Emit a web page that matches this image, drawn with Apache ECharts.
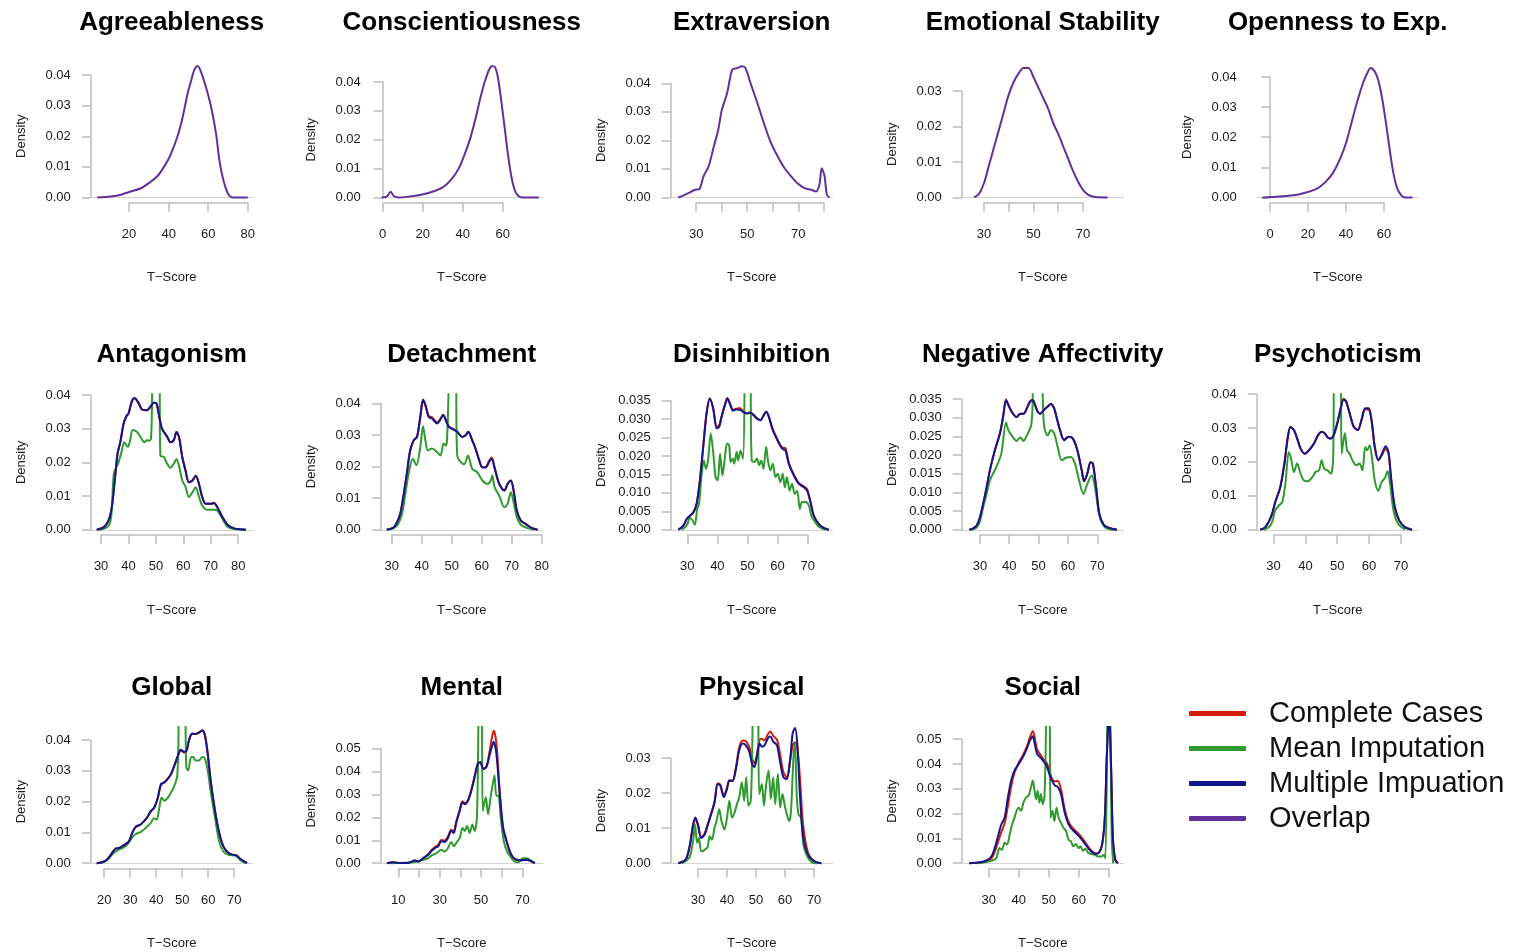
<!DOCTYPE html>
<html><head><meta charset="utf-8">
<script src="https://cdn.jsdelivr.net/npm/echarts@6/dist/echarts.min.js"></script>
<style>html,body{margin:0;padding:0;background:#fff}#c{width:1516px;height:952px}</style>
</head><body><div id="c"></div>
<script>
// ---------- panel definitions ----------
const titles = ['Agreeableness','Conscientiousness','Extraversion','Emotional Stability','Openness to Exp.',
  'Antagonism','Detachment','Disinhibition','Negative Affectivity','Psychoticism',
  'Global','Mental','Physical','Social'];
const xRange = [[0.6,82.5],[-1,80],[20,83.5],[21,86.5],[-7,78.3],
  [26.2,85.3],[26.3,80.3],[24.5,78.3],[23.8,79],[24.7,75.6],
  [14.8,77.1],[1.5,79.8],[20.6,76.4],[21,75]];
const xTicks = [[20,80,20],[0,60,20],[30,80,10],[30,70,10],[0,60,20],
  [30,80,10],[30,80,10],[30,70,10],[30,70,10],[30,70,10],
  [20,70,10],[10,70,10],[30,70,10],[30,70,10]];
const xTickLabels = [[20,40,60,80],[0,20,40,60],[30,50,70],[30,50,70],[0,20,40,60],
  [30,40,50,60,70,80],[30,40,50,60,70,80],[30,40,50,60,70],[30,40,50,60,70],[30,40,50,60,70],
  [20,30,40,50,60,70],[10,30,50,70],[30,40,50,60,70],[30,40,50,60,70]];
const yMax = [0.04,0.04,0.04,0.03,0.04, 0.04,0.04,0.035,0.035,0.04, 0.04,0.05,0.03,0.05];
const yStep = [0.01,0.01,0.01,0.01,0.01, 0.01,0.01,0.005,0.005,0.01, 0.01,0.01,0.01,0.01];
const yTop = [0.0446,0.0473,0.0478,0.0385,0.0453, 0.0405,0.0432,0.037,0.03655,0.0402, 0.0446,0.0598,0.0391,0.0553];

const seriesNames = ['Complete Cases','Mean Imputation','Multiple Impuation','Overlap'];
const xName = 'T\u2212Score';
const yName = 'Density';

// ---------- data (T-score, density); null = line break where curve leaves plot ----------
const agreeOverlap = [[3.9,0],[10.7,0.0003],[16,0.0009],[20,0.0018],[26,0.003],[30,0.0047],[34.4,0.007],[38.6,0.011],[41,0.014],[44.5,0.02],[47,0.026],[49.6,0.034],[51.3,0.038],[53,0.0417],[54.7,0.043],[56.4,0.041],[58.9,0.036],[61.5,0.0295],[64,0.0207],[65.7,0.012],[67.4,0.0064],[69.9,0.0014],[72.5,0],[80,0]];
const conscOverlap = [[-0.5,0],[2,0.0003],[4,0.002],[5.5,0.0005],[8,0],[12,0.0002],[18,0.0008],[24,0.0018],[30,0.0035],[34,0.006],[38,0.01],[41,0.015],[44,0.021],[47,0.029],[49,0.035],[51,0.04],[53,0.044],[54.5,0.0455],[56,0.0453],[57.5,0.042],[59,0.035],[61,0.024],[63,0.013],[65,0.005],[67,0.0012],[70,0],[78,0]];
const extraOverlap = [[23,0],[25.7,0.001],[27.6,0.0018],[29.6,0.0027],[31.3,0.003],[32.9,0.0075],[34.9,0.011],[36.8,0.0175],[38.7,0.024],[40,0.0305],[42.1,0.0365],[44.1,0.0447],[46,0.0453],[48,0.046],[49.3,0.0453],[51.3,0.04],[54,0.033],[56.6,0.0258],[59.2,0.0193],[61.8,0.0146],[64.5,0.0104],[67.1,0.0075],[69.7,0.005],[72.4,0.0033],[75,0.0027],[77,0.0021],[78.3,0.0045],[79.2,0.0102],[80.3,0.0075],[81.2,0.001],[82.2,0]];
const emotOverlap = [[26,0],[28,0.001],[30,0.004],[32,0.009],[34,0.014],[36,0.019],[38,0.024],[40,0.029],[42,0.0325],[44,0.035],[46,0.0365],[48,0.0365],[50,0.034],[52,0.031],[54,0.028],[56,0.025],[58,0.021],[60,0.018],[62,0.0145],[64,0.011],[66,0.0075],[68,0.0045],[70,0.0022],[72,0.0008],[75,0.0001],[80,0]];
const openOverlap = [[-4,0],[5,0.0003],[10,0.0006],[15,0.001],[20,0.0018],[25,0.003],[29,0.005],[33,0.008],[37,0.013],[40,0.018],[43,0.025],[46,0.032],[49,0.038],[51,0.041],[53,0.043],[55,0.042],[57,0.039],[59,0.033],[61,0.025],[63,0.016],[65,0.008],[67,0.003],[69,0.0008],[71,0],[75,0]];

const antagComplete = [[28.4,0],[30.9,0.0007],[32.7,0.0027],[33.9,0.0067],[35.1,0.0156],[36,0.0226],[37,0.026],[38.2,0.0315],[39.2,0.0337],[40,0.0345],[41.2,0.0382],[42.2,0.0391],[43.7,0.0376],[44.9,0.0357],[46.7,0.0355],[48,0.0365],[49.2,0.0377],[50.2,0.0375],[51,0.0345],[52.2,0.03],[54.1,0.0276],[55.3,0.026],[56.5,0.0266],[57.5,0.029],[58.4,0.0276],[59.6,0.0216],[60.8,0.0176],[62,0.0141],[63.3,0.0146],[64.5,0.016],[65.7,0.0136],[66.9,0.0097],[68.1,0.0077],[70,0.0077],[71.2,0.008],[72.4,0.0067],[74.3,0.0037],[76.1,0.0015],[78.5,0.0004],[82.8,0]];
const antagMean = [[29.6,0],[32.1,0.0007],[33.3,0.0022],[33.9,0.006],[34.6,0.0165],[35.5,0.0185],[36.2,0.0196],[37.6,0.0236],[38.4,0.026],[39.7,0.0246],[40.6,0.0266],[41.5,0.0296],[43.1,0.029],[44.3,0.0276],[45.8,0.026],[46.7,0.0266],[47.5,0.0264],[48.2,0.027],[48.6,0.0405],null,[51.4,0.0405],[51.6,0.022],[52.9,0.0216],[54.1,0.0196],[55.3,0.0184],[56.5,0.0196],[57.5,0.021],[58.4,0.019],[59.6,0.0146],[60.8,0.0127],[62,0.0097],[63.3,0.0111],[64.5,0.0126],[65.7,0.0098],[66.9,0.0072],[68.8,0.0059],[71.2,0.0059],[72.4,0.0057],[74.3,0.0032],[76.1,0.0009],[78.5,0.0002],[82.8,0]];
const antagMultiple = [[28.4,0],[30.9,0.0007],[32.7,0.0027],[33.9,0.0067],[35.1,0.0156],[36,0.0226],[37,0.026],[38.2,0.0315],[39.2,0.0337],[40,0.0345],[41.2,0.038],[42.2,0.039],[43.7,0.0375],[44.9,0.0357],[46.7,0.0355],[48,0.0365],[49.2,0.0377],[50.2,0.0375],[51,0.0345],[52.2,0.03],[54.1,0.0276],[55.3,0.026],[56.5,0.0266],[57.5,0.029],[58.4,0.0276],[59.6,0.0216],[60.8,0.0176],[62,0.0141],[63.3,0.0146],[64.5,0.016],[65.7,0.0136],[66.9,0.0097],[68.1,0.0077],[70,0.0077],[71.2,0.0079],[72.4,0.0067],[74.3,0.0037],[76.1,0.0015],[78.5,0.0004],[82.8,0]];

const detachComplete = [[28.3,0],[30.6,0.0007],[31.7,0.0023],[32.8,0.005],[33.9,0.0108],[35,0.0177],[36.1,0.025],[37.3,0.0283],[38.4,0.0294],[39.5,0.0357],[40.4,0.0412],[41.2,0.0396],[42.3,0.036],[43.4,0.0356],[45.1,0.034],[46.2,0.0351],[47.1,0.0364],[47.9,0.035],[49,0.0327],[50.7,0.0317],[51.8,0.031],[53.5,0.0294],[54.6,0.0299],[55.5,0.031],[56.8,0.0284],[57.9,0.0258],[59.1,0.0222],[60.2,0.0199],[61.3,0.0199],[62.4,0.0218],[63.3,0.0229],[64.3,0.0197],[65.8,0.0146],[67.5,0.0124],[68.6,0.0145],[69.7,0.0156],[70.6,0.0124],[71.7,0.006],[73,0.0029],[74.7,0.0018],[76.4,0.0007],[78.6,0]];
const detachMean = [[29.4,0],[31.7,0.0013],[33.4,0.005],[34.5,0.0113],[35.6,0.0177],[37,0.0225],[38.2,0.0204],[39.5,0.0262],[40.4,0.0328],[41.2,0.0283],[42,0.0251],[43.4,0.0257],[45.1,0.0246],[46.2,0.0235],[47.3,0.0273],[48,0.0267],[48.4,0.0283],[48.9,0.0432],null,[51.5,0.0432],[51.8,0.0235],[53,0.0214],[54.1,0.0207],[55.4,0.0235],[56.8,0.0193],[58.5,0.0182],[60.2,0.0156],[61.9,0.0145],[63,0.0156],[63.5,0.0172],[64.3,0.0134],[65.8,0.0108],[67.5,0.0071],[68.6,0.0082],[69.7,0.0119],[70.6,0.0087],[71.7,0.0039],[73,0.0016],[75.3,0.0005],[77.5,0]];
const detachMultiple = [[28.3,0],[30.6,0.0007],[31.7,0.0023],[32.8,0.005],[33.9,0.0108],[35,0.0177],[36.1,0.025],[37.3,0.0283],[38.4,0.0294],[39.5,0.0357],[40.4,0.041],[41.2,0.0394],[42.3,0.0357],[43.4,0.0352],[45.1,0.0336],[46.2,0.0349],[47.1,0.0363],[47.9,0.0349],[49,0.0326],[50.7,0.0317],[51.8,0.031],[53.5,0.0294],[54.6,0.0299],[55.5,0.031],[56.8,0.0283],[57.9,0.0257],[59.1,0.022],[60.2,0.0197],[61.3,0.0197],[62.4,0.0214],[63.3,0.0225],[64.3,0.0193],[65.8,0.0145],[67.5,0.0124],[68.6,0.0145],[69.7,0.0156],[70.6,0.0124],[71.7,0.006],[73,0.0029],[74.7,0.0018],[76.4,0.0007],[78.6,0]];

const disinhComplete = [[27,0],[28.7,0.0011],[29.8,0.0029],[30.9,0.0038],[32,0.0047],[33.1,0.007],[34.2,0.0134],[35.3,0.0225],[36.4,0.0315],[37.5,0.0356],[38.6,0.033],[39.8,0.028],[40.6,0.0283],[41.4,0.0308],[42.5,0.0339],[43.3,0.0357],[44.3,0.034],[45.2,0.0325],[46.3,0.0328],[47.4,0.033],[48.5,0.0322],[49.8,0.0316],[50.9,0.0318],[52,0.0311],[53.1,0.0302],[54.3,0.0297],[55.4,0.0311],[56.2,0.032],[57.1,0.0307],[58.2,0.0277],[59.9,0.0246],[61.5,0.0223],[62.6,0.0221],[63.7,0.0182],[65.4,0.0149],[67,0.0127],[68.7,0.0118],[69.8,0.011],[70.9,0.0077],[72,0.0039],[73.7,0.0015],[75.3,0.0005],[77,0]];
const disinhMean = [[28.1,0],[29.2,0.0006],[30,0.0015],[30.9,0.0032],[31.8,0.0025],[32.5,0.0014],[33.3,0.0056],[33.9,0.007],[34.7,0.0143],[35.5,0.0188],[36.2,0.0165],[36.9,0.0188],[37.8,0.0261],[38.6,0.0211],[39.4,0.0143],[40.1,0.0134],[40.9,0.0206],[41.7,0.0147],[42.4,0.0188],[43.2,0.0234],[43.9,0.0229],[44.4,0.0184],[45.1,0.0193],[45.6,0.0179],[46.4,0.0211],[46.9,0.0188],[47.7,0.0215],[48.5,0.0193],[49,0.037],null,[51.1,0.037],[51.4,0.0188],[52.3,0.0184],[53.1,0.0193],[53.9,0.0175],[54.6,0.0188],[55.3,0.0165],[56.2,0.0225],[56.8,0.0188],[57.6,0.0161],[58.4,0.0179],[59.3,0.0143],[60,0.0152],[60.9,0.0129],[61.7,0.0152],[62.4,0.0115],[63.1,0.0143],[64,0.0106],[64.8,0.0125],[65.7,0.0097],[66.5,0.0106],[67.4,0.0056],[68.1,0.0075],[69.3,0.0075],[70.4,0.0065],[71.2,0.0038],[72.1,0.0025],[73.7,0.0008],[75.9,0]];
const disinhMultiple = [[27,0],[28.7,0.0011],[29.8,0.0029],[30.9,0.0038],[32,0.0047],[33.1,0.007],[34.2,0.0134],[35.3,0.0225],[36.4,0.0315],[37.5,0.0356],[38.6,0.0329],[39.8,0.0275],[40.6,0.0279],[41.4,0.0306],[42.5,0.0338],[43.3,0.0356],[44.3,0.0338],[45.2,0.0323],[46.3,0.0326],[47.4,0.0325],[48.5,0.032],[49.8,0.0315],[50.9,0.0318],[52,0.0311],[53.1,0.0302],[54.3,0.0297],[55.4,0.0311],[56.2,0.032],[57.1,0.0306],[58.2,0.0275],[59.9,0.0243],[61.5,0.022],[62.6,0.0215],[63.7,0.0179],[65.4,0.0147],[67,0.0125],[68.7,0.0115],[69.8,0.0106],[70.9,0.0075],[72,0.0038],[73.7,0.0015],[75.3,0.0005],[77,0]];

const negaffComplete = [[26.4,0],[27.7,0.0004],[28.9,0.0011],[30,0.0033],[31.1,0.0069],[32.3,0.0114],[33.4,0.0159],[35.1,0.0213],[36.8,0.0257],[37.9,0.0302],[38.9,0.0349],[39.7,0.0335],[40.8,0.0317],[42.5,0.0302],[43.8,0.0311],[44.9,0.0311],[46,0.0326],[47.1,0.0344],[48,0.0348],[48.8,0.0334],[49.7,0.0316],[50.5,0.0311],[51.6,0.0319],[53.1,0.033],[54.2,0.0337],[55.3,0.0325],[56.1,0.0302],[57.3,0.0267],[58.7,0.024],[60.2,0.0249],[61.7,0.0244],[63.2,0.0213],[64.7,0.0159],[65.5,0.013],[66.6,0.015],[67.7,0.0181],[68.5,0.0177],[69.6,0.0114],[70.7,0.0042],[72.2,0.0013],[73.9,0.0005],[76.7,0]];
const negaffMean = [[27.2,0],[28.9,0.0006],[30,0.0022],[31.1,0.006],[32.3,0.0096],[33.4,0.0132],[35.6,0.0168],[37.3,0.0204],[38.9,0.0287],[39.7,0.0267],[40.8,0.0253],[42.5,0.0238],[43.8,0.0247],[44.9,0.0238],[46,0.0253],[47.5,0.028],[48,0.03655],null,[51.4,0.03655],[51.9,0.0276],[53.1,0.0253],[54.2,0.0267],[55.3,0.0258],[56.5,0.0222],[57.9,0.0186],[59.3,0.0193],[61,0.0195],[62.4,0.0177],[63.8,0.0132],[65.3,0.0096],[66.6,0.0123],[68.1,0.0145],[69.4,0.0105],[70.7,0.0038],[72.7,0.0006],[76,0]];
const negaffMultiple = [[26.4,0],[27.7,0.0004],[28.9,0.0011],[30,0.0033],[31.1,0.0069],[32.3,0.0114],[33.4,0.0159],[35.1,0.0213],[36.8,0.0257],[37.9,0.0302],[38.9,0.0347],[39.7,0.0334],[40.8,0.0316],[42.5,0.0302],[43.8,0.0311],[44.9,0.0311],[46,0.0325],[47.1,0.0343],[48,0.0347],[48.8,0.0334],[49.7,0.0316],[50.5,0.0311],[51.6,0.0319],[53.1,0.033],[54.2,0.0337],[55.3,0.0325],[56.1,0.0302],[57.3,0.0267],[58.7,0.024],[60.2,0.0249],[61.7,0.0244],[63.2,0.0213],[64.7,0.0159],[65.5,0.013],[66.6,0.015],[67.7,0.0181],[68.5,0.0177],[69.6,0.0114],[70.7,0.0042],[72.2,0.0013],[73.9,0.0005],[76.7,0]];

const psychComplete = [[25.8,0],[27.3,0.0007],[28.4,0.0022],[29.5,0.0046],[30.5,0.0081],[32.1,0.0125],[33.4,0.0195],[34.5,0.0274],[35.3,0.0302],[36.4,0.0294],[37.4,0.0269],[38.5,0.0239],[39.8,0.0224],[41.1,0.0234],[42.7,0.0254],[44,0.0279],[45.1,0.0289],[46.1,0.0284],[47,0.0272],[48,0.0269],[48.9,0.0279],[50,0.0313],[51.1,0.0358],[52,0.0386],[52.8,0.0378],[53.9,0.0343],[55.2,0.0303],[56.5,0.0294],[57.6,0.0322],[58.8,0.0355],[59.9,0.0354],[60.8,0.032],[61.8,0.0244],[62.9,0.0205],[63.9,0.0218],[65.2,0.0238],[66.1,0.0225],[66.9,0.0152],[68,0.007],[69.5,0.0027],[71.4,0.0007],[73.5,0]];
const psychMean = [[26.8,0],[28.4,0.0007],[29.5,0.0022],[30.5,0.0056],[31.6,0.0071],[32.7,0.0081],[33.7,0.0135],[34.8,0.0229],[35.5,0.021],[36.4,0.017],[37.4,0.0195],[38.5,0.0165],[39.5,0.0145],[40.8,0.0143],[42.2,0.0155],[43.2,0.017],[44.3,0.0175],[45.1,0.0205],[45.9,0.018],[47,0.0175],[48,0.0165],[48.7,0.0205],[48.9,0.0402],null,[51.2,0.0402],[51.4,0.0224],[52.4,0.0284],[53.1,0.0234],[53.9,0.0224],[55,0.02],[56,0.019],[57,0.0195],[57.9,0.0175],[58.8,0.0244],[59.4,0.0234],[60.2,0.0249],[61,0.0205],[61.8,0.0145],[62.9,0.0115],[63.9,0.014],[65,0.0153],[65.8,0.0173],[66.6,0.0135],[67.7,0.0056],[69.2,0.0017],[71.4,0]];
const psychMultiple = [[25.8,0],[27.3,0.0007],[28.4,0.0022],[29.5,0.0046],[30.5,0.0081],[32.1,0.0125],[33.4,0.0195],[34.5,0.0274],[35.3,0.0303],[36.4,0.0294],[37.4,0.0269],[38.5,0.0239],[39.8,0.0224],[41.1,0.0234],[42.7,0.0254],[44,0.0279],[45.1,0.0289],[46.1,0.0284],[47,0.0272],[48,0.0269],[48.9,0.0279],[50,0.0313],[51.1,0.0358],[52,0.0384],[52.8,0.0377],[53.9,0.0343],[55.2,0.0303],[56.5,0.0294],[57.6,0.0323],[58.8,0.0358],[59.9,0.0358],[60.8,0.0323],[61.8,0.0244],[62.9,0.0205],[63.9,0.022],[65.2,0.0246],[66.1,0.0229],[66.9,0.0155],[68,0.0071],[69.5,0.0027],[71.4,0.0007],[73.5,0]];

const globalComplete = [[17.1,0],[19.1,0.0003],[21,0.0011],[23,0.0033],[24.3,0.0047],[25.6,0.0049],[26.9,0.0055],[28.2,0.0062],[29.5,0.0071],[30.8,0.0099],[32.1,0.0118],[34,0.0126],[35.3,0.0137],[36.6,0.015],[37.9,0.0168],[39.2,0.0179],[40.6,0.0211],[41.8,0.0255],[43.1,0.0262],[44.4,0.0274],[45.7,0.029],[47,0.0318],[48.4,0.035],[49.4,0.0366],[50.8,0.036],[51.7,0.0367],[52.6,0.04],[53.8,0.042],[55.1,0.042],[56.4,0.0425],[57.7,0.0431],[58.7,0.0417],[59.7,0.0364],[61,0.0265],[62.6,0.0172],[64.2,0.01],[65.8,0.0055],[67.8,0.0033],[69.7,0.0027],[71,0.0025],[72.3,0.0014],[74.9,0]];
const globalMean = [[18.4,0],[21,0.0009],[23.6,0.0033],[25.6,0.0044],[26.9,0.0049],[28.8,0.006],[30.8,0.0084],[32.1,0.0095],[34,0.0101],[36,0.0115],[37.9,0.0131],[39.2,0.0146],[40.2,0.0142],[41.2,0.0181],[42.1,0.0214],[43.1,0.0203],[44.4,0.0212],[45.7,0.023],[47,0.0252],[48.1,0.0285],[48.6,0.0446],null,[51.3,0.0446],[51.6,0.0312],[52.3,0.0301],[53.4,0.0345],[54.2,0.0345],[55.1,0.0334],[56.4,0.0334],[57.7,0.0345],[58.7,0.034],[59.7,0.0307],[61,0.023],[62.6,0.0148],[64.2,0.0071],[65.8,0.0038],[67.8,0.0027],[70.4,0.0025],[72.3,0.0011],[74.3,0]];
const globalMultiple = [[17.1,0],[19.1,0.0003],[21,0.0011],[23,0.0033],[24.3,0.0047],[25.6,0.0049],[26.9,0.0055],[28.2,0.0062],[29.5,0.0071],[30.8,0.0099],[32.1,0.0118],[34,0.0126],[35.3,0.0137],[36.6,0.015],[37.9,0.017],[39.2,0.0181],[40.6,0.0213],[41.8,0.0257],[43.1,0.0263],[44.4,0.0274],[45.7,0.029],[47,0.0318],[48.4,0.0351],[49.4,0.0369],[50.8,0.0362],[51.7,0.0367],[52.6,0.04],[53.8,0.0422],[55.1,0.042],[56.4,0.0424],[57.7,0.0431],[58.7,0.0416],[59.7,0.0362],[61,0.0263],[62.6,0.017],[64.2,0.0099],[65.8,0.0055],[67.8,0.0033],[69.7,0.0027],[71,0.0025],[72.3,0.0014],[74.9,0]];

const mentalComplete = [[4.5,0],[7.6,0.0004],[10.8,0.0001],[14.8,0.0001],[18.1,0.0012],[19.7,0.0007],[22.1,0.0023],[24.5,0.004],[26.1,0.0058],[27.7,0.0071],[29.3,0.008],[30.8,0.0101],[32.4,0.0099],[34,0.0116],[35.6,0.0146],[36.8,0.0138],[38,0.0181],[39.7,0.0233],[41,0.027],[42.1,0.0262],[43.7,0.0276],[45.3,0.0321],[46.9,0.038],[48.5,0.0436],[49.7,0.0438],[51,0.041],[52.6,0.0422],[53.9,0.0475],[55.2,0.0545],[56.1,0.0577],[57.4,0.0525],[59,0.032],[60.6,0.0162],[62.3,0.0099],[63.9,0.0052],[65.5,0.0025],[67.1,0.0015],[69.5,0.0013],[71.9,0.0015],[73.5,0.0012],[76,0]];
const mentalMean = [[6.1,0],[17.3,0.0004],[19.7,0.001],[22.1,0.0015],[24.5,0.0022],[26.1,0.0034],[28.5,0.0044],[30.8,0.0059],[32.4,0.0051],[34,0.0066],[35.6,0.0093],[36.8,0.0074],[38,0.0088],[39.7,0.011],[41,0.0154],[42.1,0.014],[43.2,0.0162],[44.5,0.0132],[45.8,0.0169],[46.9,0.014],[48,0.0199],[48.7,0.0598],null,[50.5,0.0598],[50.8,0.0228],[52.3,0.0287],[53.4,0.0213],[54.5,0.0279],[55.5,0.0338],[56.5,0.0382],[57.4,0.0294],[58.4,0.0294],[59.5,0.0199],[61,0.0096],[62.6,0.0051],[64.2,0.0029],[65.8,0.001],[67.9,0.0004],[70.3,0.0022],[72.2,0.0022],[73.5,0.0015],[76,0]];
const mentalMultiple = [[4.5,0],[7.6,0.0004],[10.8,0.0001],[14.8,0.0001],[18.1,0.0012],[19.7,0.0007],[22.1,0.0022],[24.5,0.0037],[26.1,0.0054],[27.7,0.0066],[29.3,0.0074],[30.8,0.0096],[32.4,0.0093],[34,0.011],[35.6,0.014],[36.8,0.0132],[38,0.0176],[39.7,0.0228],[41,0.0265],[42.1,0.0257],[43.7,0.0272],[45.3,0.0316],[46.9,0.0375],[48.5,0.0434],[49.7,0.0441],[51,0.0412],[52.6,0.0419],[53.9,0.0463],[55.2,0.0507],[56.1,0.0529],[57.4,0.0478],[59,0.0301],[60.6,0.0154],[62.3,0.0096],[63.9,0.0051],[65.5,0.0025],[67.1,0.0015],[69.5,0.0013],[71.9,0.0015],[73.5,0.0012],[76,0]];

const physicalComplete = [[23.2,0],[24.9,0.0005],[26,0.0013],[27.2,0.0048],[28.3,0.0105],[29.1,0.0125],[30,0.0108],[31.1,0.0074],[32.3,0.0085],[33.4,0.0112],[34.5,0.0141],[35.7,0.0176],[36.8,0.0228],[37.7,0.0224],[38.9,0.0192],[40,0.0216],[40.8,0.0236],[41.9,0.0236],[43.1,0.0275],[44.2,0.033],[45.4,0.035],[46.5,0.0348],[47.7,0.033],[48.6,0.03],[49.4,0.0285],[50.3,0.031],[51.2,0.0352],[52,0.0355],[52.9,0.035],[54.1,0.0368],[54.9,0.0375],[56,0.0362],[57.2,0.0352],[58.3,0.031],[59.4,0.026],[60.6,0.0245],[61.7,0.029],[62.6,0.0335],[63.4,0.0345],[64.2,0.033],[65.1,0.0245],[66.2,0.011],[67.9,0.003],[70.2,0.0005],[72.5,0]];
const physicalMean = [[24.3,0],[26,0.0007],[27.2,0.0019],[28.3,0.0063],[29,0.011],[29.7,0.0058],[30.3,0.0072],[31.1,0.0034],[32.3,0.0038],[33.4,0.0048],[34,0.0077],[34.8,0.0067],[35.7,0.0101],[36.4,0.012],[37.3,0.0154],[38.1,0.012],[39.1,0.0096],[40,0.013],[40.8,0.0178],[41.7,0.013],[42.6,0.0144],[43.4,0.0168],[44.2,0.0188],[45.1,0.0231],[45.9,0.0178],[46.6,0.0245],[47.4,0.0164],[48.2,0.0178],[48.8,0.0391],null,[50.8,0.0391],[51.1,0.0197],[52,0.0226],[52.7,0.0164],[53.5,0.0226],[54.3,0.0264],[55.1,0.0183],[55.9,0.0245],[56.6,0.0168],[57.5,0.0255],[58.3,0.0159],[59.1,0.0197],[59.8,0.0168],[60.6,0.0139],[61.4,0.012],[62,0.0144],[62.9,0.0303],[63.4,0.0341],[64,0.0197],[64.6,0.0139],[65.5,0.013],[66.3,0.0053],[67.4,0.0024],[69.1,0.0003],[71.3,0]];
const physicalMultiple = [[23.2,0],[24.9,0.0005],[26,0.0014],[27.2,0.0053],[28.3,0.011],[29.1,0.013],[30,0.011],[31.1,0.0072],[32.3,0.0082],[33.4,0.011],[34.5,0.0139],[35.7,0.0173],[36.8,0.0226],[37.7,0.0221],[38.9,0.0188],[40,0.0212],[40.8,0.0236],[41.9,0.0234],[43.1,0.0269],[44.2,0.0322],[45.4,0.0341],[46.5,0.0336],[47.7,0.0317],[48.6,0.0284],[49.4,0.0274],[50.3,0.0303],[51.2,0.0341],[52,0.0332],[52.9,0.0336],[54.1,0.0356],[54.9,0.0361],[56,0.0346],[57.2,0.0336],[58.3,0.0288],[59.4,0.0245],[60.6,0.024],[61.7,0.0293],[62.6,0.037],[63.4,0.0385],[64.2,0.0341],[65.1,0.0197],[66.2,0.0077],[67.9,0.0024],[70.2,0.0005],[72.5,0]];

const socialComplete = [[23.5,0],[27,0.0003],[29.2,0.0008],[30.9,0.002],[32,0.0045],[33.1,0.0085],[34.2,0.0125],[35.3,0.016],[36.4,0.023],[37.5,0.031],[38.6,0.0365],[40,0.0405],[41.4,0.0435],[42.7,0.047],[43.8,0.051],[44.7,0.0532],[45.2,0.0515],[46.1,0.046],[47.1,0.044],[48.2,0.042],[49.3,0.0405],[50.2,0.0375],[51.1,0.034],[52.1,0.033],[53,0.0332],[54.1,0.0298],[55.2,0.0225],[56.2,0.018],[57.3,0.0152],[59,0.013],[60.6,0.011],[62.3,0.0082],[63.9,0.0055],[65.6,0.004],[66.7,0.0043],[67.8,0.0075],[68.7,0.018],[69.3,0.041],[69.8,0.0553],null,[70.4,0.0553],[70.9,0.034],[71.4,0.01],[72.2,0.0013],[73.1,0]];
const socialMean = [[25.9,0],[28.7,0.0004],[30.9,0.001],[32.5,0.002],[33.6,0.0061],[34.4,0.0054],[35.3,0.0082],[36.1,0.0075],[37,0.0115],[37.8,0.0156],[38.6,0.0183],[39.3,0.0211],[40,0.0224],[40.8,0.0211],[41.6,0.0245],[42.5,0.0265],[43.3,0.0272],[44.1,0.0306],[44.7,0.0333],[45.2,0.0299],[45.8,0.0258],[46.3,0.0292],[46.9,0.0245],[47.4,0.0279],[48,0.0238],[48.6,0.0272],[49.1,0.0553],null,[50.4,0.0553],[50.6,0.0183],[51.3,0.0211],[51.9,0.017],[52.6,0.0224],[53.3,0.0183],[54.1,0.0163],[54.9,0.0143],[55.8,0.0129],[56.6,0.0095],[57.4,0.0088],[58.2,0.0068],[59.1,0.0077],[59.9,0.0061],[60.6,0.0068],[61.4,0.005],[62.3,0.0058],[63.2,0.0041],[64.3,0.0037],[65.4,0.0034],[66.5,0.0027],[67.6,0.0027],[68.4,0.0034],[68.9,0.002],[69.5,0.0553],null,[70.6,0.0553],[71,0.01],[71.5,0]];
const socialMultiple = [[23.5,0],[27,0.0004],[29.2,0.0011],[30.9,0.0027],[32,0.0061],[33.1,0.0109],[34.2,0.0156],[35.3,0.0183],[36.4,0.0265],[37.5,0.0333],[38.6,0.0374],[40,0.04],[41.4,0.0428],[42.7,0.0462],[43.8,0.0496],[44.7,0.0512],[45.2,0.0489],[46.1,0.0442],[47.1,0.0428],[48.2,0.0412],[49.3,0.0394],[50.2,0.036],[51.1,0.0333],[52.1,0.0313],[53,0.0308],[54.1,0.0279],[55.2,0.021],[56.2,0.017],[57.3,0.0143],[59,0.0122],[60.6,0.0102],[62.3,0.0075],[63.9,0.005],[65.6,0.0037],[66.7,0.0041],[67.8,0.0075],[68.7,0.0183],[69.3,0.0414],[69.8,0.0553],null,[70.4,0.0553],[70.9,0.0346],[71.4,0.0102],[72.2,0.0013],[73.1,0]];

// per panel: [complete, mean, multiple] or [overlap]
const panelSeries = [
  [null,null,null,agreeOverlap],[null,null,null,conscOverlap],[null,null,null,extraOverlap],[null,null,null,emotOverlap],[null,null,null,openOverlap],
  [antagComplete,antagMean,antagMultiple],[detachComplete,detachMean,detachMultiple],[disinhComplete,disinhMean,disinhMultiple],[negaffComplete,negaffMean,negaffMultiple],[psychComplete,psychMean,psychMultiple],
  [globalComplete,globalMean,globalMultiple],[mentalComplete,mentalMean,mentalMultiple],[physicalComplete,physicalMean,physicalMultiple],[socialComplete,socialMean,socialMultiple]
];

// ---------- layout & style ----------
const FONT = '"Liberation Sans", Arial, Helvetica, sans-serif';
const colors = ['#d41c0a','#2f9a2f','#15158a','#61309b'];
const colLeft = [90.7, 380.7, 670.7, 961.7, 1256.7];
const plotW = 162;
const rowTop = [61, 393.3, 726];
const rowBottom = [202.7, 535, 868.5];
const titleY = [20, 352, 685];
const axisGray = '#bdbdbd';

const grids = [], xAxes = [], yAxes = [], series = [], titleOpts = [];
titles.forEach((t, i) => {
  const row = Math.floor(i / 5), col = i % 5;
  const top = rowTop[row], bottom = rowBottom[row];
  const y0 = bottom - (bottom - top) * 0.04 / 1.08;
  const scale = (y0 - top) / yTop[i];
  const gTop = y0 - yMax[i] * scale;
  const left = colLeft[col];
  const [xlo, xhi] = xRange[i];
  const pxPerX = plotW / (xhi - xlo);
  const [t0, t1, ts] = xTicks[i];
  const labels = xTickLabels[i];
  const dec = yStep[i] < 0.01 ? 3 : 2;

  titleOpts.push({ text: t, left: left + plotW / 2 - 5, top: titleY[row] - 15, textAlign: 'center',
    textStyle: { fontSize: 26, fontWeight: 'bold', fontFamily: FONT, color: '#000' } });

  // plot region grid (y from 0 to top tick)
  grids.push({ left: left, top: gTop, width: plotW, height: y0 - gTop });
  const gA = grids.length - 1;
  xAxes.push({ gridIndex: gA, type: 'value', min: xlo, max: xhi,
    axisLine: { show: true, onZero: false, lineStyle: { color: '#d2d2d2', width: 1 } },
    axisTick: { show: false }, axisLabel: { show: false }, splitLine: { show: false },
    name: xName, nameLocation: 'middle', nameGap: (bottom - y0) + 68.5,
    nameTextStyle: { fontSize: 13, fontFamily: FONT, color: '#1a1a1a' } });
  yAxes.push({ gridIndex: gA, type: 'value', min: 0, max: yMax[i], interval: yStep[i],
    axisLine: { show: true, lineStyle: { color: axisGray, width: 1.5 } },
    axisTick: { show: true, length: 9, lineStyle: { color: axisGray, width: 1.5 } },
    axisLabel: { margin: 20, fontSize: 13, fontFamily: FONT, color: '#1a1a1a', formatter: v => v.toFixed(dec) },
    splitLine: { show: false },
    name: yName, nameLocation: 'middle', nameRotate: 90, nameGap: 63,
    nameTextStyle: { fontSize: 13, fontFamily: FONT, color: '#1a1a1a' } });

  // detached x axis (first tick to last tick), at bottom of plot region
  grids.push({ left: left + (t0 - xlo) * pxPerX, top: bottom - 1, width: (t1 - t0) * pxPerX, height: 1 });
  const gB = grids.length - 1;
  xAxes.push({ gridIndex: gB, type: 'value', min: t0, max: t1, interval: ts,
    axisLine: { show: true, onZero: false, lineStyle: { color: axisGray, width: 1.5 } },
    axisTick: { show: true, length: 9, lineStyle: { color: axisGray, width: 1.5 } },
    axisLabel: { margin: 25, fontSize: 13, fontFamily: FONT, color: '#1a1a1a', showMinLabel: true, showMaxLabel: true,
      formatter: v => (labels.indexOf(Math.round(v)) >= 0 ? String(Math.round(v)) : '') },
    splitLine: { show: false } });
  yAxes.push({ gridIndex: gB, type: 'value', min: 0, max: 1, show: false });

  panelSeries[i].forEach((arr, k) => {
    if (!arr) return;
    series.push({ type: 'line', name: seriesNames[k], xAxisIndex: gA, yAxisIndex: gA,
      data: arr.map(p => (p === null ? ['-', '-'] : p)),
      showSymbol: false, symbol: 'none', smooth: 0.3, clip: false, silent: true, connectNulls: false,
      color: colors[k], itemStyle: { color: colors[k] },
      lineStyle: { color: colors[k], width: 2 }, z: 3 + k });
  });
});

const chart = echarts.init(document.getElementById('c'), null, { renderer: 'canvas' });
chart.setOption({
  animation: false,
  backgroundColor: '#fff',
  title: titleOpts,
  grid: grids, xAxis: xAxes, yAxis: yAxes, series: series,
  legend: { data: seriesNames, orient: 'vertical', left: 1184, top: 694, itemWidth: 57, itemHeight: 5,
    itemGap: 6, icon: 'roundRect', selectedMode: false,
    textStyle: { fontSize: 29, fontFamily: FONT, color: '#111', lineHeight: 29, padding: [0, 0, 0, 18] } }
});
</script></body></html>
